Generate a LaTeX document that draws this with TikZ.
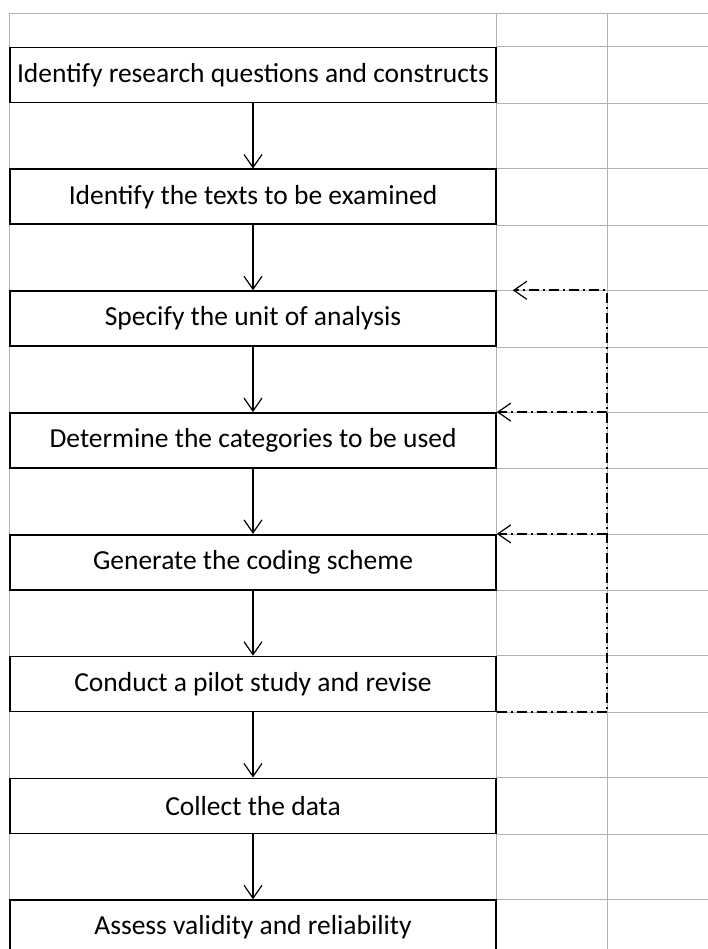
\documentclass[tikz,border=0pt]{standalone}
\usepackage{fontspec}
\setmainfont{Carlito}
\usetikzlibrary{positioning}
\usetikzlibrary{arrows.meta}
\usetikzlibrary{calc}
\tikzset{>={Straight Barb[length=13pt,width=18pt,line width=1.2pt]}}
\tikzset{stepbox/.style={draw, line width=1.6pt, minimum width=486pt, minimum height=55pt, inner sep=0pt, font=\fontsize{27.5}{32}\selectfont}}
\tikzset{gridline/.style={draw=black!30, line width=0.8pt}}
\tikzset{flow/.style={->, line width=1.2pt}}
\tikzset{feedback/.style={->, line width=1.8pt, dash pattern=on 10pt off 4pt on 2pt off 4pt}}

\begin{document}
\begin{tikzpicture}[x=1pt, y=-1pt, on grid, node distance=121.8pt]
        \clip (0,0) rectangle (708,949);
        \fill[white] (0,0) rectangle (708,949);

        \coordinate (corner) at (9,13);
        \coordinate (colA) at (496,13);
        \coordinate (colB) at (607,13);
        \coordinate (edge) at (708,949);

        \draw[gridline] (corner) -- (corner -| edge);
        \foreach \c in {corner, colA, colB}
            \draw[gridline] (\c) -- (\c |- edge);

        \node[stepbox] (ident) at (253,75) {Identify research questions and constructs};
        \node[stepbox, below=of ident] (texts) {Identify the texts to be examined};
        \node[stepbox, below=of texts] (unit) {Specify the unit of analysis};
        \node[stepbox, below=of unit] (categ) {Determine the categories to be used};
        \node[stepbox, below=of categ] (scheme) {Generate the coding scheme};
        \node[stepbox, below=of scheme] (pilot) {Conduct a pilot study and revise};
        \node[stepbox, below=of pilot] (collect) {Collect the data};
        \node[stepbox, below=of collect] (assess) {Assess validity and reliability};

        \foreach \n in {ident, texts, unit, categ, scheme, pilot, collect, assess} {
            \draw[gridline] (\n.north east) -- (\n.north east -| edge);
            \draw[gridline] (\n.south east) -- (\n.south east -| edge);
        }

        \draw[flow] (ident) -- (texts);
        \draw[flow] (texts) -- (unit);
        \draw[flow] (unit) -- (categ);
        \draw[flow] (categ) -- (scheme);
        \draw[flow] (scheme) -- (pilot);
        \draw[flow] (pilot) -- (collect);
        \draw[flow] (collect) -- (assess);

        \draw[feedback] (pilot.south east) -- (pilot.south east -| colB)
         -- (unit.north east -| colB)
         -- ($(unit.north east)+(16,0)$)
        ;
        \draw[feedback] (categ.north east -| colB) -- (categ.north east);
        \draw[feedback] (scheme.north east -| colB) -- (scheme.north east);
    \end{tikzpicture}
\end{document}
